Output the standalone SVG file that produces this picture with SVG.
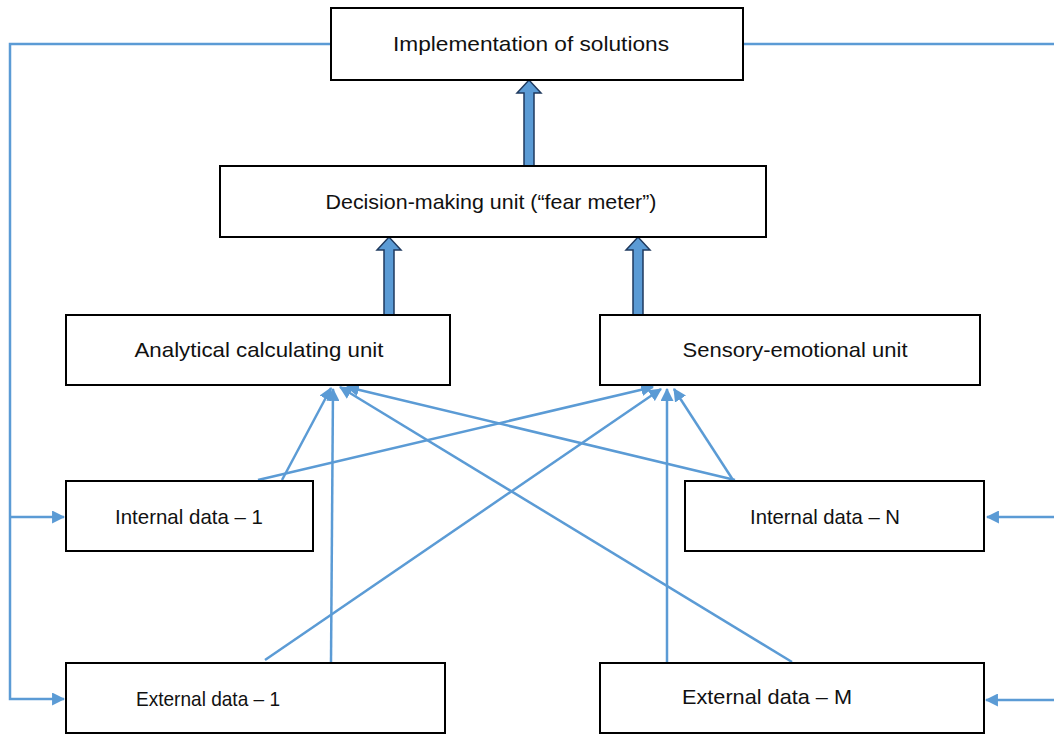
<svg xmlns="http://www.w3.org/2000/svg" width="1054" height="735" viewBox="0 0 1054 735">
<style>
.box{fill:#fff;stroke:#000;stroke-width:2}
.lbl{font-family:"Liberation Sans",Arial,sans-serif;font-size:21px;fill:#111;text-anchor:middle}
.con{fill:none;stroke:#5B9BD5;stroke-width:2.5}
.big{fill:#5B9BD5;stroke:#1F3A5F;stroke-width:1.5}
</style>
<defs>
<marker id="ah" viewBox="0 0 12 12" refX="11" refY="6" markerWidth="13" markerHeight="13" markerUnits="userSpaceOnUse" orient="auto">
<path d="M0,0 L12,6 L0,12 Z" fill="#5B9BD5"/>
</marker>
</defs>
<rect width="1054" height="735" fill="#fff"/>
<g id="connectors">
<polyline class="con" points="331,44 10,44 10,699 64,699" marker-end="url(#ah)"/>
<line class="con" x1="10" y1="517" x2="64" y2="517" marker-end="url(#ah)"/>
<line class="con" x1="743" y1="44" x2="1054" y2="44"/>
<line class="con" x1="1054" y1="517" x2="987" y2="517" marker-end="url(#ah)"/>
<line class="con" x1="1054" y1="700" x2="986" y2="700" marker-end="url(#ah)"/>
<line class="con" x1="282" y1="480" x2="331" y2="388" marker-end="url(#ah)"/>
<line class="con" x1="331" y1="662" x2="333" y2="389" marker-end="url(#ah)"/>
<line class="con" x1="792" y1="662" x2="340" y2="387" marker-end="url(#ah)"/>
<line class="con" x1="735" y1="480" x2="347" y2="387" marker-end="url(#ah)"/>
<line class="con" x1="258" y1="480" x2="653" y2="387" marker-end="url(#ah)"/>
<line class="con" x1="265" y1="660" x2="661" y2="389" marker-end="url(#ah)"/>
<line class="con" x1="667" y1="662" x2="667" y2="389" marker-end="url(#ah)"/>
<line class="con" x1="733" y1="480" x2="674" y2="389" marker-end="url(#ah)"/>
<polygon class="big" points="524,166 524,93 517,93 529,80 541,93 534,93 534,166"/>
<polygon class="big" points="384,315 384,250 377,250 389,237 401,250 394,250 394,315"/>
<polygon class="big" points="633,315 633,250 626,250 638,237 650,250 643,250 643,315"/>
</g>
<g id="n-impl"><rect class="box" x="331" y="8" width="412" height="72"/><text class="lbl" x="531" y="51" textLength="276" lengthAdjust="spacingAndGlyphs">Implementation of solutions</text></g>
<g id="n-decision"><rect class="box" x="220" y="166" width="546" height="71"/><text class="lbl" x="491" y="209" textLength="331" lengthAdjust="spacingAndGlyphs">Decision-making unit (“fear meter”)</text></g>
<g id="n-analytical"><rect class="box" x="66" y="315" width="384" height="70"/><text class="lbl" x="259" y="357" textLength="249" lengthAdjust="spacingAndGlyphs">Analytical calculating unit</text></g>
<g id="n-sensory"><rect class="box" x="600" y="315" width="380" height="70"/><text class="lbl" x="795" y="357" textLength="225" lengthAdjust="spacingAndGlyphs">Sensory-emotional unit</text></g>
<g id="n-int1"><rect class="box" x="66" y="481" width="247" height="70"/><text class="lbl" x="189" y="524" textLength="148" lengthAdjust="spacingAndGlyphs">Internal data – 1</text></g>
<g id="n-intN"><rect class="box" x="685" y="481" width="299" height="70"/><text class="lbl" x="825" y="524" textLength="150" lengthAdjust="spacingAndGlyphs">Internal data – N</text></g>
<g id="n-ext1"><rect class="box" x="66" y="663" width="379" height="70"/><text class="lbl" x="208" y="706" textLength="144" lengthAdjust="spacingAndGlyphs">External data – 1</text></g>
<g id="n-extM"><rect class="box" x="600" y="663" width="384" height="70"/><text class="lbl" x="767" y="704" textLength="170" lengthAdjust="spacingAndGlyphs">External data – M</text></g>
</svg>
